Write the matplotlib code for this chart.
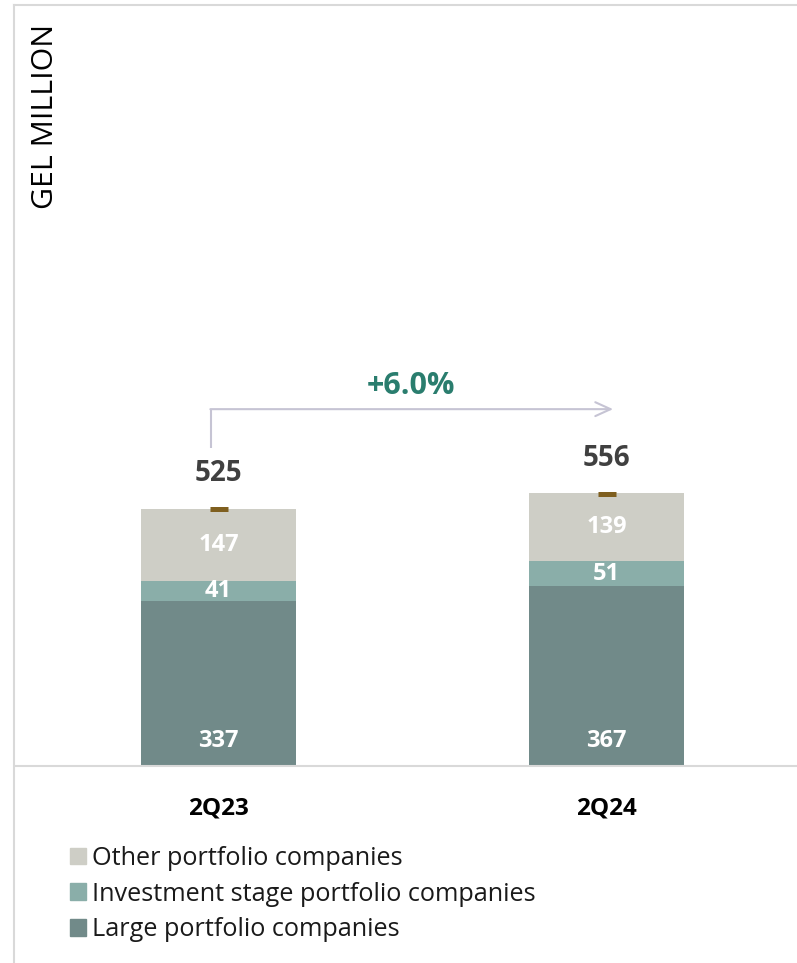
import matplotlib.pyplot as plt
from matplotlib.patches import Patch
from matplotlib.lines import Line2D

plt.rcParams['font.family'] = ['Open Sans', 'DejaVu Sans']

# Portfolio value by segment, GEL million
periods = ['2Q23', '2Q24']
large = [337, 367]
investment = [41, 51]
other = [147, 139]
totals = [525, 556]
growth_label = '+6.0%'

series_names = ['Other portfolio companies',
                'Investment stage portfolio companies',
                'Large portfolio companies']

c_large = '#718a89'
c_invest = '#8aaea9'
c_other = '#cecec6'
c_grid = '#d9d9d9'

W, H = 797, 963
fig = plt.figure(figsize=(W / 100, H / 100), dpi=100)

# axes runs from the baseline (y=766 px) up to the frame top
base_px, top_px = 766, 6
px_per_unit = 0.4895
ax = fig.add_axes([16 / W, (H - base_px) / H, 1 - 16 / W, (base_px - top_px) / H])
ax.set_ylim(0, (base_px - top_px) / px_per_unit)
ax.set_xlim((16 - 218.5) / 388, (W - 218.5) / 388)

x = list(range(len(periods)))
bw = 0.40
bottom_inv = large
bottom_other = [a + b for a, b in zip(large, investment)]

ax.bar(x, large, width=bw, color=c_large, zorder=2)
ax.bar(x, investment, width=bw, bottom=bottom_inv, color=c_invest, zorder=2)
ax.bar(x, other, width=bw, bottom=bottom_other, color=c_other, zorder=2)

# small marker sitting on top of each stack
ax.plot(x, totals, linestyle='none', marker='_', ms=13, mew=3.6,
        color='#7f5f1f', zorder=3)

lbl = dict(ha='center', va='center', color='white', fontsize=17,
           fontweight='bold', zorder=4)
for i in x:
    ax.text(i, 51, str(large[i]), **lbl)
    ax.text(i, bottom_inv[i] + investment[i] / 2, str(investment[i]), **lbl)
    ax.text(i, bottom_other[i] + other[i] / 2, str(other[i]), **lbl)
    ax.text(i, totals[i] + 73, str(totals[i]), ha='center', va='center',
            color='#404040', fontsize=20, fontweight='bold')

# growth arrow between the two periods
arrow_c = '#c6c4d4'
ax0 = x[0] - 0.019
ay0 = totals[0] + 125
ay1 = max(totals) + 173
ax.plot([ax0, ax0], [ay0, ay1], color=arrow_c, lw=1.5, solid_capstyle='butt')
ax.annotate('', xy=(x[1] + 0.017, ay1), xytext=(ax0 - 0.002, ay1),
            arrowprops=dict(arrowstyle='->, head_length=1.1, head_width=0.5',
                            color=arrow_c, lw=1.5, shrinkA=0, shrinkB=0,
                            mutation_scale=10))
ax.text((x[0] + x[1]) / 2 - 0.004, ay1 + 48, growth_label, ha='center',
        va='center', color='#2a7d6e', fontsize=22, fontweight='bold')

for s in ['top', 'right', 'left']:
    ax.spines[s].set_visible(False)
ax.spines['bottom'].set_color(c_grid)
ax.spines['bottom'].set_linewidth(1.5)
ax.set_yticks([])
ax.set_xticks(x)
ax.set_xticklabels(periods, fontsize=17.5, fontweight='bold', color='black')
ax.tick_params(axis='x', length=0, pad=22)
ax.patch.set_visible(False)

fig.text(46 / W, 1 - 116.5 / H, 'GEL MILLION', rotation=90, ha='center',
         va='center', fontsize=21.8, color='black')

# frame lines along the left and top edges
fig.add_artist(Line2D([14 / W, 14 / W], [0, 1 - 5 / H], color=c_grid, lw=1.5,
                      transform=fig.transFigure))
fig.add_artist(Line2D([14 / W, 1], [1 - 5 / H, 1 - 5 / H], color=c_grid, lw=1.5,
                      transform=fig.transFigure))

handles = [Patch(color=c) for c in [c_other, c_invest, c_large]]
leg = fig.legend(handles, series_names, loc='upper left',
                 bbox_to_anchor=(70 / W, 1 - 846 / H), frameon=False,
                 fontsize=18.2, handlelength=0.64, handleheight=0.64,
                 handletextpad=0.25, labelspacing=0.42, borderpad=0,
                 borderaxespad=0)
for t in leg.get_texts():
    t.set_color('#1a1a1a')

fig.savefig('out.png', dpi=100)
